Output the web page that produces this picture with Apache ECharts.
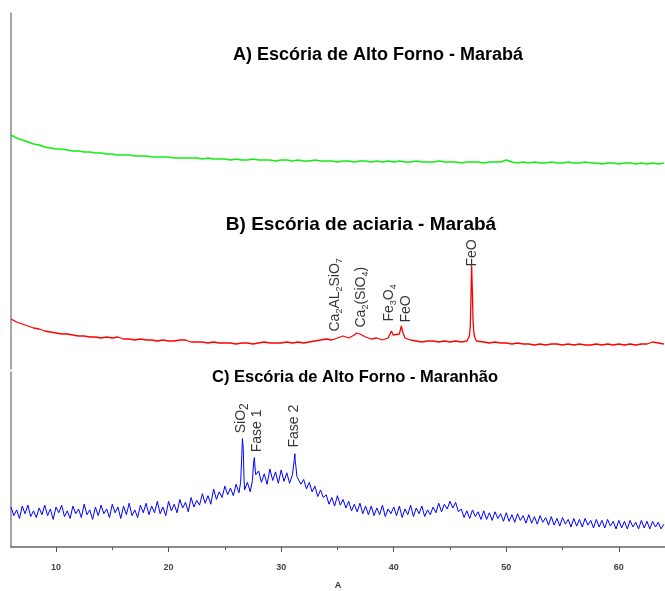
<!DOCTYPE html>
<html>
<head>
<meta charset="utf-8">
<script src="https://cdn.jsdelivr.net/npm/echarts@6.0.0/dist/echarts.min.js"></script>
<style>
  html, body { margin: 0; padding: 0; background: #fff; }
  #main { width: 665px; height: 591px; }
</style>
</head>
<body>
<div id="main"></div>
<script>
  // A) Escória de Alto Forno - Marabá (2θ from 6, step 0.5)
  var startA = 6, stepA = 0.5
  var intensA = [
    234, 231, 229, 227, 225, 224, 222, 221, 220, 220,
    219, 218, 218, 217, 217, 216, 216, 215, 215, 214,
    214, 214, 213, 213, 213, 212, 212, 212, 212, 211,
    211, 211, 211, 211, 210, 211, 210, 210, 210, 209,
    210, 209, 209, 210, 209, 209, 209, 208, 209, 209,
    208, 209, 208, 208, 209, 208, 208, 208, 207, 208,
    208, 207, 208, 208, 207, 208, 207, 208, 207, 208,
    207, 207, 208, 207, 207, 207, 208, 207, 207, 207,
    206, 207, 207, 207, 206, 207, 207, 207, 209, 207,
    206, 207, 206, 207, 206, 206, 207, 206, 206, 207,
    206, 206, 207, 206, 206, 205, 206, 206, 205, 206,
    206, 205, 206, 205, 206, 205, 206
  ]

  // B) Escória de aciaria - Marabá (2θ from 6, step 0.5) + peaks
  var startB = 6, stepB = 0.5
  var intensB = [
    50, 47, 45, 43, 41, 40, 38, 37, 36, 35,
    35, 34, 33, 33, 32, 32, 31, 32, 31, 32,
    30, 30, 29, 30, 29, 29, 28, 29, 28, 28,
    29, 29, 27, 27, 27, 26, 27, 26, 26, 26,
    25, 26, 26, 25, 26, 27, 26, 26, 26, 27,
    26, 27, 26, 27, 28, 29, 30, 29, 31, 33,
    31, 34, 35, 32, 30, 31, 29, 31, 33, 35,
    31, 29, 28, 27, 28, 28, 27, 28, 27, 28,
    27, 28, 72, 28, 27, 26, 27, 26, 26, 25,
    26, 25, 25, 24, 25, 24, 25, 25, 24, 25,
    24, 25, 24, 24, 25, 24, 25, 24, 25, 24,
    25, 24, 25, 25, 27, 26, 25
  ]
  var peaksB = [
    [36.7, 36], [36.85, 38],
    [39.65, 33], [39.8, 38], [39.95, 34],
    [40.55, 37], [40.68, 43], [40.8, 37],
    [46.6, 29], [46.72, 33], [46.8, 42], [46.86, 70], [46.92, 104], [46.98, 80],
    [47.04, 50], [47.12, 36], [47.22, 31], [47.35, 28]
  ]

  // C) Escória de Alto Forno - Maranhão (2θ from 6, step 0.25) + peaks
  var startC = 6, stepC = 0.25
  var intensC = [
    42, 33, 39, 30, 43, 35, 44, 32,
    38, 31, 41, 34, 44, 33, 40, 29,
    42, 36, 44, 32, 38, 30, 43, 35,
    40, 31, 45, 34, 39, 29, 42, 33,
    44, 35, 40, 31, 45, 36, 42, 30,
    43, 34, 46, 33, 39, 31, 44, 36,
    46, 34, 43, 36, 48, 35, 42, 33,
    48, 38, 45, 36, 50, 41, 47, 37,
    52, 42, 49, 44, 56, 46, 54, 45,
    61, 50, 58, 52, 64, 55, 62, 54,
    66, 57, 96, 60, 68, 58, 72, 76,
    80, 68, 77, 66, 82, 70, 79, 67,
    81, 69, 78, 67, 76, 90, 75, 66,
    71, 61, 68, 58, 64, 53, 60, 52,
    55, 45, 52, 43, 54, 44, 50, 41,
    48, 38, 45, 37, 46, 35, 43, 34,
    43, 33, 41, 34, 44, 32, 40, 35,
    42, 33, 43, 31, 40, 34, 44, 32,
    41, 35, 43, 32, 39, 34, 42, 36,
    46, 37, 45, 40, 48, 41, 47, 37,
    40, 31, 38, 30, 39, 32, 37, 29,
    38, 29, 36, 28, 37, 30, 35, 27,
    36, 27, 34, 26, 35, 28, 33, 25,
    34, 25, 32, 24, 33, 26, 31, 23,
    32, 23, 30, 22, 31, 24, 29, 21,
    30, 22, 29, 21, 30, 23, 28, 20,
    29, 21, 28, 20, 29, 22, 27, 19,
    28, 20, 27, 19, 28, 21, 26, 19,
    28, 20, 27, 19, 27, 21, 26, 19,
    24
  ]
  var peaksC = [
    [26.4, 68], [26.5, 96], [26.56, 114], [26.63, 104], [26.7, 72],
    [27.45, 70], [27.55, 88], [27.62, 94], [27.7, 80],
    [31.1, 78], [31.17, 92], [31.22, 98], [31.3, 86], [31.4, 74]
  ]

  var tickValues = [10, 20, 30, 40, 50, 60]
  var minorTickValues = [15, 25, 35, 45, 55]

  // peak annotations: text and the [2θ, intensity] where the text starts
  var labelsB = ['Ca{s|2}AL{s|2}SiO{s|7}', 'Ca{s|2}(SiO{s|4})', 'Fe{s|3}O{s|4}', 'FeO', 'FeO']
  var labelAtB = [[34.86, 37], [37.17, 41], [39.66, 47], [41.17, 46], [47.03, 102]]
  var labelsC = ['SiO{b|2}', 'Fase 1', 'Fase 2']
  var labelAtC = [[26.5, 119], [27.94, 99], [31.22, 104]]

  var titles = ['A) Escória de Alto Forno - Marabá', 'B) Escória de aciaria - Marabá', 'C) Escória de Alto Forno - Maranhão']

  function buildTrace(start, step, vals, peaks) {
    var pts = {}
    vals.forEach(function (v, i) {
      var x = +(start + i * step).toFixed(3)
      pts[x.toFixed(3)] = [x, v]
    })
    ;(peaks || []).forEach(function (p) {
      pts[p[0].toFixed(3)] = [p[0], p[1]]
    })
    return Object.keys(pts).map(function (k) { return pts[k] }).sort(function (a, b) { return a[0] - b[0] })
  }

  var fontFam = 'Arial, "Liberation Sans", sans-serif'

  function labelSeries(name, xi, yi, texts, at, size) {
    return {
      name: name,
      type: 'scatter',
      xAxisIndex: xi,
      yAxisIndex: yi,
      symbolSize: 1,
      itemStyle: { color: 'rgba(0,0,0,0)' },
      silent: true,
      data: at,
      label: {
        show: true,
        position: [0, 0],
        rotate: 90,
        align: 'left',
        verticalAlign: 'middle',
        color: '#000',
        fontFamily: fontFam,
        fontSize: size,
        lineHeight: size + 4,
        formatter: function (p) { return texts[p.dataIndex] },
        rich: {
          s: { fontSize: 9, lineHeight: size + 4, verticalAlign: 'bottom', color: '#000', fontFamily: fontFam },
          b: { fontSize: size - 2, lineHeight: size + 4, verticalAlign: 'bottom', color: '#000', fontFamily: fontFam }
        }
      }
    }
  }

  function titleText(i, x, y, size) {
    return {
      type: 'text', x: x, y: y,
      style: { text: titles[i], font: 'bold ' + size + 'px ' + fontFam, fill: '#000', textAlign: 'center', textVerticalAlign: 'middle' }
    }
  }

  var myChart = echarts.init(document.getElementById('main'))
  var option = {
    animation: false,
    backgroundColor: '#fff',
    grid: [
      { left: 11, right: 0, top: 13, height: 356 },
      { left: 11, right: 0, top: 372, height: 184 }
    ],
    xAxis: [
      { gridIndex: 0, type: 'value', min: 6, max: 64.1, show: false },
      {
        gridIndex: 1, type: 'value', min: 6, max: 64.1,
        name: 'A', nameLocation: 'middle', nameGap: 34,
        nameTextStyle: { fontSize: 9, fontWeight: 'bold', color: '#333', fontFamily: fontFam },
        axisLine: { show: true, lineStyle: { color: '#666', width: 1.5 } },
        axisTick: { show: true, customValues: tickValues, length: 5, lineStyle: { color: '#555' } },
        axisLabel: { show: true, customValues: tickValues, margin: 16, fontSize: 9, fontWeight: 'bold', color: '#444', fontFamily: fontFam },
        splitLine: { show: false }
      },
      {
        gridIndex: 1, type: 'value', min: 6, max: 64.1, position: 'bottom',
        axisLine: { show: false },
        axisTick: { show: true, customValues: minorTickValues, length: 3, lineStyle: { color: '#555' } },
        axisLabel: { show: false },
        splitLine: { show: false }
      }
    ],
    yAxis: [
      {
        gridIndex: 0, type: 'value', min: 0, max: 356,
        axisLine: { show: true, lineStyle: { color: '#888', width: 1.5 } },
        axisTick: { show: false }, axisLabel: { show: false }, splitLine: { show: false }
      },
      {
        gridIndex: 1, type: 'value', min: 0, max: 184,
        axisLine: { show: true, lineStyle: { color: '#888', width: 1.5 } },
        axisTick: { show: false }, axisLabel: { show: false }, splitLine: { show: false }
      }
    ],
    graphic: [
      titleText(0, 378, 55, 18),
      titleText(1, 361, 225, 19),
      titleText(2, 355, 377, 16.5)
    ],
    series: [
      {
        name: 'A', type: 'line', xAxisIndex: 0, yAxisIndex: 0, showSymbol: false,
        lineStyle: { color: '#11ee11', width: 1.6 }, data: buildTrace(startA, stepA, intensA)
      },
      {
        name: 'B', type: 'line', xAxisIndex: 0, yAxisIndex: 0, showSymbol: false,
        lineStyle: { color: '#ff0000', width: 1.3 }, data: buildTrace(startB, stepB, intensB, peaksB)
      },
      {
        name: 'C', type: 'line', xAxisIndex: 1, yAxisIndex: 1, showSymbol: false,
        lineStyle: { color: '#0000ff', width: 1 }, data: buildTrace(startC, stepC, intensC, peaksC)
      },
      labelSeries('rotulosB', 0, 0, labelsB, labelAtB, 14),
      labelSeries('rotulosC', 1, 1, labelsC, labelAtC, 14)
    ]
  }
  myChart.setOption(option)
</script>
</body>
</html>
